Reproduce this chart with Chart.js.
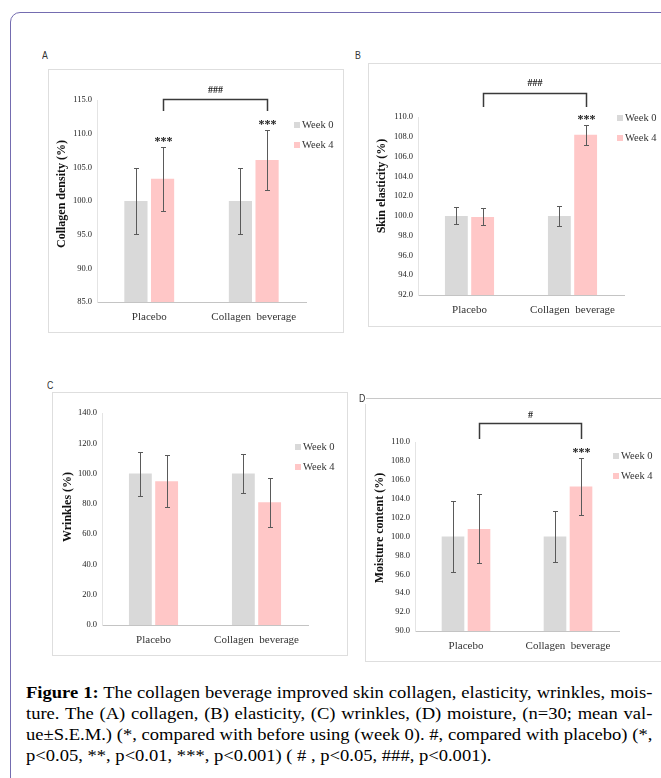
<!DOCTYPE html>
<html>
<head>
<meta charset="utf-8">
<script src="https://cdn.jsdelivr.net/npm/chart.js@4.4.1/dist/chart.umd.min.js"></script>
<style>
html, body { margin: 0; padding: 0; background: #fff; }
body { width: 661px; height: 778px; position: relative; overflow: hidden; font-family: 'Liberation Serif', 'Times New Roman', serif; }
#outer { position: absolute; left: 10px; top: 12px; width: 720px; height: 820px; border: 1.5px solid #746cb0; border-radius: 10px; }
.frame { position: absolute; border: 1px solid #dedede; box-sizing: border-box; }
canvas.panel { position: absolute; }
.tag { position: absolute; font-family: 'Liberation Sans', sans-serif; font-size: 11px; color: #333; line-height: 1; transform: scaleX(0.8); transform-origin: left top; }
#caption { position: absolute; left: 26px; top: 682px; width: 540px; font-size: 16px; line-height: 21px; color: #000; transform: scaleX(1.16); transform-origin: left top; }
#caption .j { text-align: justify; text-align-last: justify; }
</style>
</head>
<body>
<div id="outer"></div>

<div class="frame" style="left:48px;top:69px;width:296px;height:264px"></div>
<div class="frame" style="left:368px;top:63px;width:300px;height:264px"></div>
<div class="frame" style="left:52px;top:392px;width:296px;height:264px"></div>
<div class="frame" style="left:365px;top:398px;width:300px;height:264px;border-top-color:#c8c8c8"></div>

<canvas class="panel" id="cA" width="296" height="264" style="left:48px;top:69px"></canvas>
<canvas class="panel" id="cB" width="293" height="264" style="left:368px;top:63px"></canvas>
<canvas class="panel" id="cC" width="296" height="264" style="left:52px;top:392px"></canvas>
<canvas class="panel" id="cD" width="296" height="262" style="left:365px;top:398px"></canvas>

<div class="tag" style="left:42px;top:50px">A</div>
<div class="tag" style="left:355px;top:50px">B</div>
<div class="tag" style="left:47px;top:380px">C</div>
<div class="tag" style="left:359px;top:393px;background:#fff;padding-right:1px">D</div>

<div id="caption">
  <div class="j"><b>Figure 1:</b> The collagen beverage improved skin collagen, elasticity, wrinkles, mois-</div>
  <div class="j">ture. The (A) collagen, (B) elasticity, (C) wrinkles, (D) moisture, (n=30; mean val-</div>
  <div class="j">ue±S.E.M.) (*, compared with before using (week 0). #, compared with placebo) (*,</div>
  <div>p&lt;0.05, **, p&lt;0.01, ***, p&lt;0.001) ( # , p&lt;0.05, ###, p&lt;0.001).</div>
</div>

<script>
// groups and series
const groups = ['Placebo', 'Collagen  beverage'];
const seriesLabels = ['Week 0', 'Week 4'];
const barColors = ['#d9d9d9', '#ffc7c7'];

// A collagen density
const collagenWeek0 = [100.0, 100.0];
const collagenWeek4 = [103.3, 106.1];
const collagenSem0 = [4.9, 4.9];
const collagenSem4 = [4.75, 4.5];
const collagenAxis = [85, 115, 5];
const collagenStars = ['***', '***'];

// B skin elasticity
const elasticityWeek0 = [100.0, 100.0];
const elasticityWeek4 = [99.9, 108.2];
const elasticitySem0 = [0.85, 1.05];
const elasticitySem4 = [0.85, 1.0];
const elasticityAxis = [92, 110, 2];
const elasticityStars = ['', '***'];

// C wrinkles
const wrinklesWeek0 = [100.0, 100.0];
const wrinklesWeek4 = [95.0, 81.0];
const wrinklesSem0 = [14.5, 13.0];
const wrinklesSem4 = [17.0, 16.0];
const wrinklesAxis = [0, 140, 20];
const wrinklesStars = ['', ''];

// D moisture content
const moistureWeek0 = [100.0, 100.0];
const moistureWeek4 = [100.8, 105.3];
const moistureSem0 = [3.75, 2.75];
const moistureSem4 = [3.65, 3.05];
const moistureAxis = [90, 110, 2];
const moistureStars = ['', '***'];

const SERIF = "'Liberation Serif', 'Times New Roman', serif";
const Y_W = 40, X_H = 24;

// draws error bars, stars, bracket, legend and y title
const extras = {
  id: 'extras',
  afterDatasetsDraw(chart, args, o) {
    const ctx = chart.ctx, ys = chart.scales.y;
    ctx.save();
    ctx.strokeStyle = '#5a5a5a';
    ctx.lineWidth = 1;
    chart.data.datasets.forEach((ds, i) => {
      const meta = chart.getDatasetMeta(i);
      ds.sem.forEach((e, j) => {
        const x = Math.round(meta.data[j].x) + 0.5;
        const t = Math.round(ys.getPixelForValue(ds.data[j] + e)) + 0.5;
        const b = Math.round(ys.getPixelForValue(ds.data[j] - e)) + 0.5;
        ctx.beginPath();
        ctx.moveTo(x, t); ctx.lineTo(x, b);
        ctx.moveTo(x - 2.5, t); ctx.lineTo(x + 2.5, t);
        ctx.moveTo(x - 2.5, b); ctx.lineTo(x + 2.5, b);
        ctx.stroke();
        if (ds.stars && ds.stars[j]) {
          ctx.fillStyle = '#1a1a1a';
          ctx.font = 'bold 12px ' + SERIF;
          ctx.textAlign = 'center';
          ctx.textBaseline = 'alphabetic';
          ctx.fillText(ds.stars[j], x, t - 3);
        }
      });
    });

    if (o.bracket) {
      const m = chart.getDatasetMeta(1);
      const x1 = Math.round(m.data[0].x) + 0.5, x2 = Math.round(m.data[1].x) + 0.5;
      const by = o.bracket.y + 0.5, ty = o.bracket.tick;
      ctx.strokeStyle = '#3a3a3a';
      ctx.lineWidth = 1.5;
      ctx.beginPath();
      ctx.moveTo(x1, ty); ctx.lineTo(x1, by); ctx.lineTo(x2, by); ctx.lineTo(x2, ty);
      ctx.stroke();
      ctx.fillStyle = '#222';
      ctx.font = 'bold 10px ' + SERIF;
      ctx.textAlign = 'center';
      ctx.textBaseline = 'middle';
      ctx.fillText(o.bracket.label, (x1 + x2) / 2, o.bracket.labelY);
    }

    // legend
    ctx.font = '10.5px ' + SERIF;
    ctx.textAlign = 'left';
    ctx.textBaseline = 'middle';
    chart.data.datasets.forEach((ds, i) => {
      const ly = o.legend.y + i * 20;
      ctx.fillStyle = ds.backgroundColor;
      ctx.fillRect(o.legend.x, ly - 3, 6, 6);
      ctx.fillStyle = '#333';
      ctx.fillText(ds.label, o.legend.x + 8, ly);
    });

    // y title
    ctx.translate(o.title.x, o.title.y);
    ctx.rotate(-Math.PI / 2);
    ctx.fillStyle = '#111';
    ctx.font = 'bold 12px ' + SERIF;
    ctx.textAlign = 'center';
    ctx.textBaseline = 'middle';
    ctx.fillText(o.title.text, 0, 0);
    ctx.restore();
  }
};

function makePanel(id, box, area, w0, w4, s0, s4, axis, stars, title, legend, bracket) {
  const bx = box[0], by = box[1];
  const loc = (p) => ({ x: p[0] - bx, y: p[1] - by });
  const lg = loc(legend);
  const tt = loc(title.at);
  let br = null;
  if (bracket) {
    br = { label: bracket.label, y: bracket.y - by, tick: bracket.tick - by, labelY: bracket.labelY - by };
  }
  new Chart(document.getElementById(id), {
    type: 'bar',
    data: {
      labels: groups,
      datasets: [
        { label: seriesLabels[0], data: w0, sem: s0, backgroundColor: barColors[0] },
        { label: seriesLabels[1], data: w4, sem: s4, stars: stars, backgroundColor: barColors[1] }
      ]
    },
    options: {
      responsive: false,
      animation: false,
      categoryPercentage: 0.51,
      barPercentage: 0.87,
      layout: {
        padding: {
          left: area[0] - bx - Y_W,
          top: area[1] - by,
          right: bx + box[2] - area[2],
          bottom: by + box[3] - area[3] - X_H
        }
      },
      plugins: {
        legend: { display: false },
        tooltip: { enabled: false },
        extras: { legend: lg, title: { text: title.text, x: tt.x, y: tt.y }, bracket: br }
      },
      scales: {
        x: {
          grid: { display: false, drawTicks: false },
          border: { display: true, color: '#c4c4c4', width: 1 },
          ticks: { font: { family: SERIF, size: 11 }, color: '#333', padding: 9 },
          afterFit: (s) => { s.height = X_H; }
        },
        y: {
          min: axis[0], max: axis[1],
          grid: { display: false, drawTicks: false },
          border: { display: true, color: '#e4e4e4', width: 1 },
          ticks: {
            stepSize: axis[2],
            font: { family: SERIF, size: 8.5 },
            color: '#222',
            padding: 5,
            callback: (v) => Number(v).toFixed(1)
          },
          afterFit: (s) => { s.width = Y_W; }
        }
      }
    },
    plugins: [extras]
  });
}

makePanel('cA', [48, 69, 296, 264], [97, 100, 306, 302],
  collagenWeek0, collagenWeek4, collagenSem0, collagenSem4, collagenAxis, collagenStars,
  { text: 'Collagen density (%)', at: [62, 194] }, [294, 125],
  { label: '###', y: 99, tick: 111, labelY: 90 });

makePanel('cB', [368, 63, 293, 264], [418, 117, 624, 295],
  elasticityWeek0, elasticityWeek4, elasticitySem0, elasticitySem4, elasticityAxis, elasticityStars,
  { text: 'Skin elasticity (%)', at: [382, 186] }, [617, 118],
  { label: '###', y: 93, tick: 107, labelY: 83 });

makePanel('cC', [52, 392, 296, 264], [102, 413, 308, 625],
  wrinklesWeek0, wrinklesWeek4, wrinklesSem0, wrinklesSem4, wrinklesAxis, wrinklesStars,
  { text: 'Wrinkles (%)', at: [68, 507] }, [295, 447], null);

makePanel('cD', [365, 398, 296, 262], [415, 442, 619, 631],
  moistureWeek0, moistureWeek4, moistureSem0, moistureSem4, moistureAxis, moistureStars,
  { text: 'Moisture content (%)', at: [380, 528] }, [613, 456],
  { label: '#', y: 423, tick: 439, labelY: 415 });
</script>
</body>
</html>
